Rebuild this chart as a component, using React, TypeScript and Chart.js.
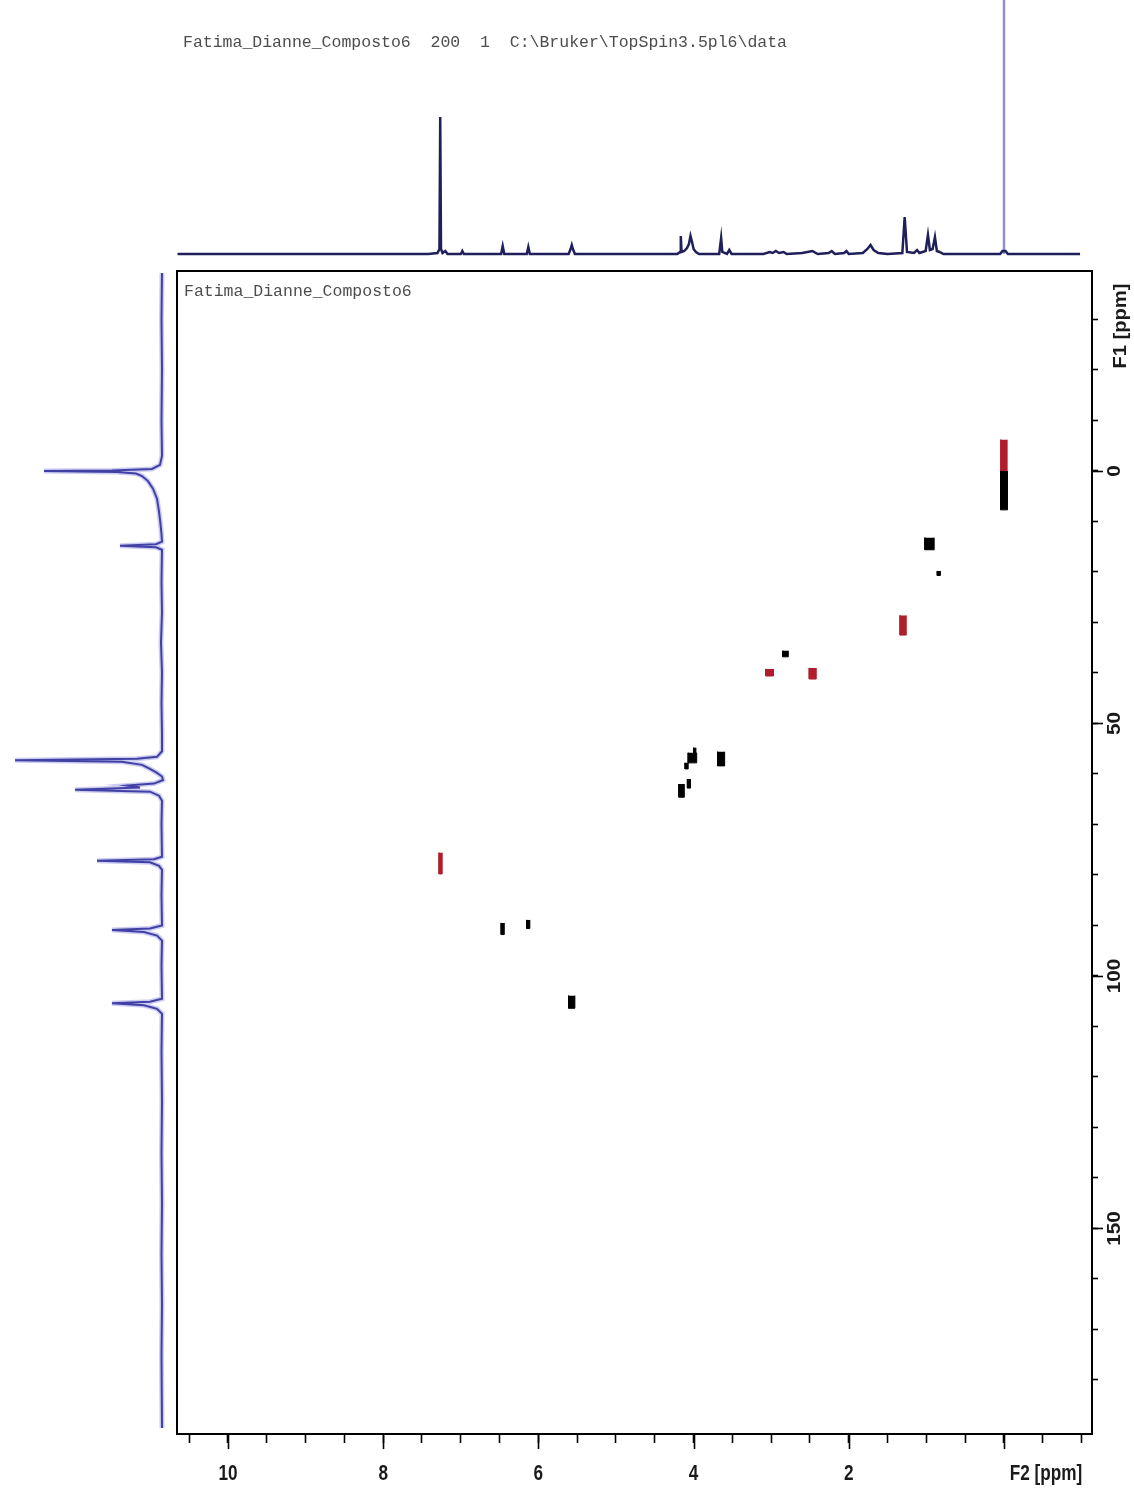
import React, { useEffect, useRef } from 'react';
import { Chart, registerables } from 'chart.js';

Chart.register(...registerables);

const W = 1134;
const H = 1488;

// ---- axis ranges (ppm) ----
const f2Range = [-1.134, 10.657];
const f1Range = [-39.6, 190.7];

// ---- tick values & labels ----
const f2MinorTicks = [10.5, 10, 9.5, 9, 8.5, 8, 7.5, 7, 6.5, 6, 5.5, 5, 4.5, 4, 3.5, 3, 2.5, 2, 1.5, 1, 0.5, 0, -0.5, -1];
const f2MajorTicks = [10, 8, 6, 4, 2, 0];
const f2LabelValues = [10, 8, 6, 4, 2];
const f2Labels = ['10', '8', '6', '4', '2'];
const f2Unit = 'F2 [ppm]';
const f1MinorTicks = [-30, -20, -10, 0, 10, 20, 30, 40, 50, 60, 70, 80, 90, 100, 110, 120, 130, 140, 150, 160, 170, 180];
const f1MajorTicks = [0, 50, 100, 150];
const f1Labels = ['0', '50', '100', '150'];
const f1Unit = 'F1 [ppm]';

const headerText = 'Fatima_Dianne_Composto6  200  1  C:\\Bruker\\TopSpin3.5pl6\\data';
const plotTitle = 'Fatima_Dianne_Composto6';

// ---- 1H projection (top), ppm vs intensity ----
const topPpm = [
  10.65, 7.42, 7.30, 7.275, 7.265, 7.255, 7.235, 7.20, 7.17, 7.00,
  6.98, 6.96, 6.48, 6.46, 6.44, 6.15, 6.13, 6.11, 5.61, 5.585,
  5.57, 5.555, 5.53, 4.21, 4.175, 4.165, 4.155, 4.12, 4.085, 4.06,
  4.04, 4.02, 4.00, 3.97, 3.93, 3.67, 3.645, 3.63, 3.57, 3.54,
  3.51, 3.10, 3.02, 2.98, 2.94, 2.90, 2.84, 2.80, 2.60, 2.47,
  2.40, 2.26, 2.22, 2.18, 2.06, 2.03, 2.00, 1.82, 1.76, 1.72,
  1.68, 1.62, 1.50, 1.31, 1.28, 1.25, 1.16, 1.12, 1.09, 1.01,
  0.98, 0.955, 0.92, 0.89, 0.865, 0.83, 0.78, 0.05, 0.02, -0.02,
  -0.05, -0.98,
];
const topInt = [
  0, 0, 1, 5, 137, 5, 1, 3, 0, 0,
  3, 0, 0, 8, 0, 0, 7, 0, 0, 5,
  9, 5, 0, 0, 2, 18, 2, 3, 6, 10,
  18, 12, 5, 2, 0, 0, 16, 2, 0, 4,
  0, 0, 2, 1, 3, 1, 2, 0, 1, 3,
  0, 1, 3, 0, 1, 3, 0, 1, 5, 9,
  4, 1, 0, 1, 37, 2, 1, 4, 1, 3,
  19, 4, 5, 17, 3, 2, 0, 0, 3, 3,
  0, 0,
];
const tmsPpm = [0.0, 0.0];
const tmsInt = [0, 400];

// ---- 13C projection (left), F1 ppm vs intensity ----
const leftF1 = [
  -39.2, -30, -20, -10, -3, -1.2, -0.4, -0.1, 0, 0.2,
  0.5, 1.0, 2.0, 3.5, 5.5, 8.0, 10.5, 12.5, 14.0, 14.5,
  14.8, 15.1, 15.6, 22, 28, 34, 40, 46, 52, 55.5,
  56.6, 57.0, 57.3, 57.6, 58.2, 59.0, 59.8, 60.5, 61.2, 61.9,
  62.3, 62.7, 63.1, 63.5, 64.3, 65.3, 70, 76.4, 76.9, 77.2,
  77.5, 78.2, 79.0, 84, 90.0, 90.6, 90.9, 91.3, 92.0, 93.0,
  98, 104.5, 105.1, 105.4, 105.8, 106.5, 107.5, 115, 125, 135,
  145, 155, 165, 175, 189.5,
];
const leftInt = [
  0, 0.5, 0, 0.5, 0, 2, 10, 50, 118, 45,
  26, 20, 14, 9, 5, 3, 1.5, 0.5, 0, 6,
  42, 6, 0, 0.5, 0, 1, 0, 0.5, 0, 0,
  5, 25, 147, 40, 20, 12, 5, 0, -1, 8,
  35, 22, 87, 12, 3, 0, 0.5, 0, 8, 65,
  12, 3, 0, 0.5, 0, 12, 50, 18, 5, 0,
  0.5, 0, 12, 50, 18, 5, 0, 0.5, 0, 0.5,
  0, 0.5, 0, 0.5, 0,
];

// ---- HSQC cross peaks (extent in ppm) ----
const peakF2Hi = [0.045, 0.04, 1.02, 0.86, 1.34, 2.85, 3.07, 2.51, 4.07, 4.00, 3.69, 4.11, 4.08, 4.19, 7.28, 6.48, 6.15, 5.61];
const peakF2Lo = [-0.045, -0.04, 0.90, 0.82, 1.26, 2.78, 2.97, 2.42, 3.96, 3.97, 3.60, 4.07, 4.04, 4.12, 7.24, 6.44, 6.11, 5.53];
const peakF1Lo = [0, -6.2, 13.2, 19.8, 28.6, 35.6, 39.2, 39.0, 55.8, 54.8, 55.6, 57.8, 61.0, 62.0, 75.6, 89.5, 88.9, 103.9];
const peakF1Hi = [7.7, 0, 15.6, 20.7, 32.5, 36.8, 40.6, 41.2, 57.8, 56.0, 58.4, 59.0, 62.8, 64.6, 79.8, 91.8, 90.6, 106.4];
const peakPhase = [1, -1, 1, 1, -1, 1, -1, -1, 1, 1, 1, 1, 1, 1, -1, 1, 1, 1];

const POS_COLOR = '#000000';
const NEG_COLOR = '#b01e2c';

const framePlugin = {
  id: 'nmrFrame',
  afterDraw(chart: any) {
    const { ctx, chartArea: a, scales } = chart;
    const xs = scales.x;
    const ys = scales.y;
    ctx.save();
    ctx.strokeStyle = '#000';
    ctx.lineWidth = 2;
    ctx.strokeRect(a.left, a.top, a.right - a.left, a.bottom - a.top);
    ctx.lineWidth = 1.6;
    f2MajorTicks.forEach((v) => {
      const px = Math.round(xs.getPixelForValue(v)) + 0.5;
      ctx.beginPath();
      ctx.moveTo(px, a.bottom);
      ctx.lineTo(px, a.bottom + 15);
      ctx.stroke();
    });
    f1MajorTicks.forEach((v) => {
      const py = Math.round(ys.getPixelForValue(v)) + 0.5;
      ctx.beginPath();
      ctx.moveTo(a.right, py);
      ctx.lineTo(a.right + 11, py);
      ctx.stroke();
    });

    ctx.fillStyle = '#1a1a1a';
    ctx.textAlign = 'center';
    ctx.textBaseline = 'middle';
    ctx.font = 'bold 22px "Liberation Sans", Arial, sans-serif';
    f2LabelValues.forEach((v, i) => {
      const px = xs.getPixelForValue(v);
      ctx.save();
      ctx.translate(px, 1474);
      ctx.scale(0.78, 1);
      ctx.fillText(f2Labels[i], 0, 0);
      ctx.restore();
    });
    ctx.save();
    ctx.translate(xs.getPixelForValue(0) + 42, 1474);
    ctx.scale(0.78, 1);
    ctx.fillText(f2Unit, 0, 0);
    ctx.restore();

    ctx.font = 'bold 18px "Liberation Sans", Arial, sans-serif';
    f1MajorTicks.forEach((v, i) => {
      const py = ys.getPixelForValue(v);
      ctx.save();
      ctx.translate(a.right + 23, py);
      ctx.rotate(-Math.PI / 2);
      ctx.scale(1.15, 1);
      ctx.fillText(f1Labels[i], 0, 0);
      ctx.restore();
    });
    ctx.save();
    ctx.translate(a.right + 29, ys.getPixelForValue(-28.7));
    ctx.rotate(-Math.PI / 2);
    ctx.scale(1.12, 1);
    ctx.fillText(f1Unit, 0, 0);
    ctx.restore();

    ctx.fillStyle = '#4d4d4d';
    ctx.textAlign = 'left';
    ctx.font = '16.5px "Liberation Mono", "DejaVu Sans Mono", monospace';
    ctx.fillText(headerText, 183, 43);
    ctx.fillText(plotTitle, a.left + 7, a.top + 21);
    ctx.restore();
  },
};

function buildMain(): any {
  const datasets = peakF2Hi.map((_, i) => {
    const color = peakPhase[i] > 0 ? POS_COLOR : NEG_COLOR;
    return {
      data: [
        { x: peakF2Hi[i], y: peakF1Lo[i] },
        { x: peakF2Hi[i], y: peakF1Hi[i] },
        { x: peakF2Lo[i], y: peakF1Hi[i] },
        { x: peakF2Lo[i], y: peakF1Lo[i] },
      ],
      borderColor: color,
      backgroundColor: color,
      borderWidth: 1,
      pointRadius: 0,
      tension: 0,
      fill: 'shape',
    };
  });
  return {
    type: 'line',
    data: { datasets },
    options: {
      animation: false,
      responsive: false,
      maintainAspectRatio: false,
      events: [],
      layout: { padding: { left: 177, top: 271, right: 0, bottom: 0 } },
      plugins: { legend: { display: false }, tooltip: { enabled: false }, title: { display: false } },
      scales: {
        x: {
          type: 'linear',
          position: 'bottom',
          reverse: true,
          min: f2Range[0],
          max: f2Range[1],
          bounds: 'data',
          afterBuildTicks: (s: any) => { s.ticks = f2MinorTicks.map((v) => ({ value: v })); },
          afterFit: (s: any) => { s.height = 54; },
          ticks: { display: false },
          border: { display: false },
          grid: { drawOnChartArea: false, drawTicks: true, tickLength: 9, tickColor: '#000', tickWidth: 1.6 },
        },
        y: {
          type: 'linear',
          position: 'right',
          reverse: true,
          min: f1Range[0],
          max: f1Range[1],
          bounds: 'data',
          afterBuildTicks: (s: any) => { s.ticks = f1MinorTicks.map((v) => ({ value: v })); },
          afterFit: (s: any) => { s.width = 42; },
          ticks: { display: false },
          border: { display: false },
          grid: { drawOnChartArea: false, drawTicks: true, tickLength: 6, tickColor: '#000', tickWidth: 1.6 },
        },
      },
    },
    plugins: [framePlugin],
  };
}

function buildTop(): any {
  return {
    type: 'line',
    data: {
      datasets: [
        {
          data: topPpm.map((p, i) => ({ x: p, y: topInt[i] })),
          borderColor: '#1f1f5c',
          borderWidth: 2.5,
          pointRadius: 0,
          tension: 0,
          fill: false,
          clip: false,
        },
        {
          data: tmsPpm.map((p, i) => ({ x: p, y: tmsInt[i] })),
          borderColor: '#8f8fd8',
          borderWidth: 2.5,
          pointRadius: 0,
          tension: 0,
          fill: false,
        },
      ],
    },
    options: {
      animation: false,
      responsive: false,
      maintainAspectRatio: false,
      events: [],
      layout: { padding: { left: 177, right: 42, top: 0, bottom: H - 254 } },
      plugins: { legend: { display: false }, tooltip: { enabled: false } },
      scales: {
        x: { type: 'linear', display: false, reverse: true, min: f2Range[0], max: f2Range[1] },
        y: { type: 'linear', display: false, min: 0, max: 254 },
      },
    },
  };
}

function buildLeft(): any {
  const pts = leftF1.map((f, i) => ({ x: leftInt[i], y: f }));
  return {
    type: 'line',
    data: {
      datasets: [
        {
          data: pts,
          borderColor: 'rgba(110,110,215,0.35)',
          borderWidth: 5,
          pointRadius: 0,
          tension: 0,
          fill: false,
          clip: false,
        },
        {
          data: pts,
          borderColor: '#2a2a8a',
          borderWidth: 2,
          pointRadius: 0,
          tension: 0,
          fill: false,
          clip: false,
        },
      ],
    },
    options: {
      animation: false,
      responsive: false,
      maintainAspectRatio: false,
      events: [],
      layout: { padding: { left: 0, right: W - 162, top: 271, bottom: 54 } },
      plugins: { legend: { display: false }, tooltip: { enabled: false } },
      scales: {
        x: { type: 'linear', display: false, reverse: true, min: 0, max: 162 },
        y: { type: 'linear', display: false, reverse: true, min: f1Range[0], max: f1Range[1] },
      },
    },
  };
}

function ChartCanvas({ build }: { build: () => any }) {
  const ref = useRef<HTMLCanvasElement | null>(null);
  useEffect(() => {
    if (!ref.current) return;
    const chart = new Chart(ref.current, build());
    return () => chart.destroy();
  }, [build]);
  return (
    <canvas
      ref={ref}
      width={W}
      height={H}
      style={{ position: 'absolute', left: 0, top: 0, width: W, height: H }}
    />
  );
}

export default function App() {
  return (
    <div style={{ position: 'absolute', left: 0, top: 0, width: W, height: H, background: '#fff', overflow: 'hidden' }}>
      <ChartCanvas build={buildTop} />
      <ChartCanvas build={buildLeft} />
      <ChartCanvas build={buildMain} />
    </div>
  );
}
